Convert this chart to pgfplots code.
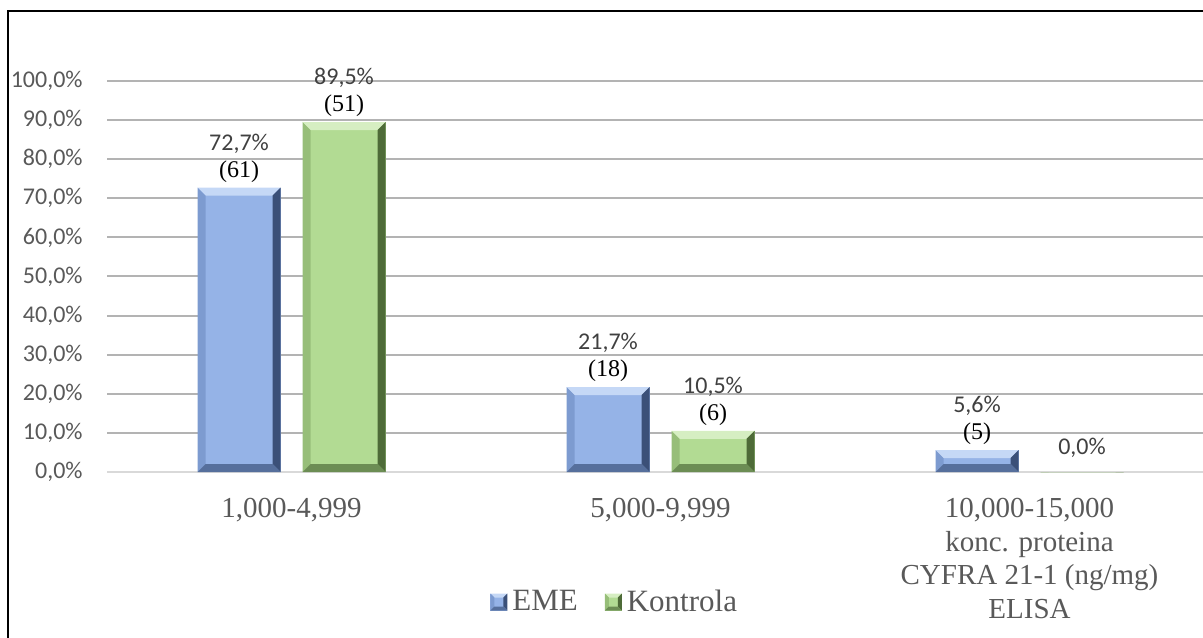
\documentclass[border=0pt]{standalone}
\usepackage{pgfplots}
\pgfplotsset{compat=1.18}
\usepackage{fontspec}
\setmainfont{Liberation Serif}
\newfontfamily\carlito{Carlito}

\definecolor{blueF}{HTML}{95B3E7}
\definecolor{blueT}{HTML}{C5D8F6}
\definecolor{blueL}{HTML}{7D9BD0}
\definecolor{blueR}{HTML}{3B5078}
\definecolor{blueB}{HTML}{566F9C}
\definecolor{greenF}{HTML}{B2DB93}
\definecolor{greenT}{HTML}{D6EEC2}
\definecolor{greenL}{HTML}{97BE79}
\definecolor{greenR}{HTML}{4E6B38}
\definecolor{greenB}{HTML}{6C8D54}
\definecolor{txtgray}{HTML}{595959}
\definecolor{lblgray}{HTML}{404040}
\definecolor{gridgray}{HTML}{B3B3B3}

% bevel of the bars, drawn with basic pgf so no tikz path is nested
\def\bv{4pt}
\newcommand\bvquad[5]{%
  \pgfsetfillcolor{#1}%
  \pgfpathmoveto{#2}\pgfpathlineto{#3}\pgfpathlineto{#4}\pgfpathlineto{#5}%
  \pgfpathclose\pgfusepath{fill}}
\newcommand\bevelcode[4]{%
  \pgfpointanchor{path picture bounding box}{south west}\pgfgetlastxy\xa\ya
  \pgfpointanchor{path picture bounding box}{north east}\pgfgetlastxy\xb\yb
  \bvquad{#1}{\pgfpoint{\xa}{\yb}}{\pgfpoint{\xb}{\yb}}{\pgfpoint{\xb-\bv}{\yb-\bv}}{\pgfpoint{\xa+\bv}{\yb-\bv}}%
  \bvquad{#2}{\pgfpoint{\xa}{\yb}}{\pgfpoint{\xa}{\ya}}{\pgfpoint{\xa+\bv}{\ya+\bv}}{\pgfpoint{\xa+\bv}{\yb-\bv}}%
  \bvquad{#3}{\pgfpoint{\xb}{\yb}}{\pgfpoint{\xb}{\ya}}{\pgfpoint{\xb-\bv}{\ya+\bv}}{\pgfpoint{\xb-\bv}{\yb-\bv}}%
  \bvquad{#4}{\pgfpoint{\xa}{\ya}}{\pgfpoint{\xb}{\ya}}{\pgfpoint{\xb-\bv}{\ya+\bv}}{\pgfpoint{\xa+\bv}{\ya+\bv}}%
}
\tikzset{
  bevel/.style n args={5}{fill=#1, path picture={\bevelcode{#2}{#3}{#4}{#5}}},
}
% one path per bar, so that each bar gets its own bevel
\pgfplotsset{
  eme/.style={bevel={blueF}{blueT}{blueL}{blueR}{blueB}, draw=none, bar shift=-26.25pt},
  kon/.style={bevel={greenF}{greenT}{greenL}{greenR}{greenB}, draw=none, bar shift=26.25pt},
}

\protected\def\pctfont{\carlito\fontsize{12}{13.5}\selectfont\color{lblgray}}
\protected\def\cntfont{\fontsize{12}{13.5}\selectfont\color{black}}
\protected\def\lab#1#2{{\pctfont #1\%}\\{\cntfont (#2)}}
\protected\def\labz#1{\raisebox{6pt}{\pctfont #1\%}}

\begin{document}
\begin{tikzpicture}
\useasboundingbox (0,0) rectangle (601.5pt,318.5pt);
\clip (0,0) rectangle (601.5pt,318.5pt);
\begin{axis}[
  at={(53.5pt,82.5pt)}, anchor=south west,
  scale only axis, width=553.5pt, height=195.5pt,
  xmin=-0.5, xmax=2.5, ymin=0, ymax=100,
  ybar, bar width=41.5pt,
  axis line style={draw=none},
  major tick length=0pt,
  xtick={0,1,2},
  xticklabels={{1,000-4,999},{5,000-9,999},{10,000-15,000\\konc. proteina\\CYFRA 21-1 (ng/mg)\\ELISA}},
  xticklabel style={font=\fontsize{14.5}{16.75}\selectfont, text=txtgray, align=center, anchor=north, inner sep=0pt, yshift=-13pt},
  ytick={10,20,...,100},
  extra y ticks={0},
  extra y tick style={grid style={draw=gray!30, line width=1pt}},
  ymajorgrids, grid style={draw=gridgray, line width=1pt},
  yticklabel={\pgfmathprintnumber{\tick}\%},
  /pgf/number format/.cd, fixed, fixed zerofill, precision=1, use comma, assume math mode=true, /pgfplots/.cd,
  yticklabel style={font=\carlito\fontsize{12}{13}\selectfont, text=txtgray, anchor=east, inner sep=0pt, xshift=-12pt},
  every node near coord/.append style={align=center, anchor=south, inner sep=0pt, yshift=2.5pt, font=\fontsize{12}{13.5}\selectfont},
  clip=false,
  legend style={at={(0.46,-0.3325)}, anchor=center, draw=none, fill=none, legend columns=2,
    font=\fontsize{15.5}{17}\selectfont, text=txtgray,
    /tikz/every even column/.append style={column sep=11pt}, nodes={inner sep=2.5pt}},
  legend image code/.code={\def\bv{2pt}\fill[#1] (0pt,-4.25pt) rectangle (8.5pt,4.25pt);},
]
% bars: EME
\addplot[eme] coordinates {(0,72.7)};
\addplot[eme, forget plot] coordinates {(1,21.7)};
\addplot[eme, forget plot] coordinates {(2,5.6)};
% bars: Kontrola
\addplot[kon] coordinates {(0,89.5)};
\addplot[kon, forget plot] coordinates {(1,10.5)};
\addplot[kon, forget plot] coordinates {(2,0)};
% value labels (percent and count)
\addplot[draw=none, fill=none, bar shift=-26.25pt, forget plot,
  point meta=explicit symbolic, nodes near coords] coordinates {
  (0,72.7) [\lab{72,7}{61}]
  (1,21.7) [\lab{21,7}{18}]
  (2,5.6)  [\lab{5,6}{5}]
};
\addplot[draw=none, fill=none, bar shift=26.25pt, forget plot,
  point meta=explicit symbolic, nodes near coords] coordinates {
  (0,89.5) [\lab{89,5}{51}]
  (1,10.5) [\lab{10,5}{6}]
  (2,0)    [\labz{0,0}]
};
\legend{EME, Kontrola}
\end{axis}
\draw[line width=1pt] (4pt,-10pt) -- (4pt,313pt) -- (620pt,313pt);
\end{tikzpicture}
\end{document}
